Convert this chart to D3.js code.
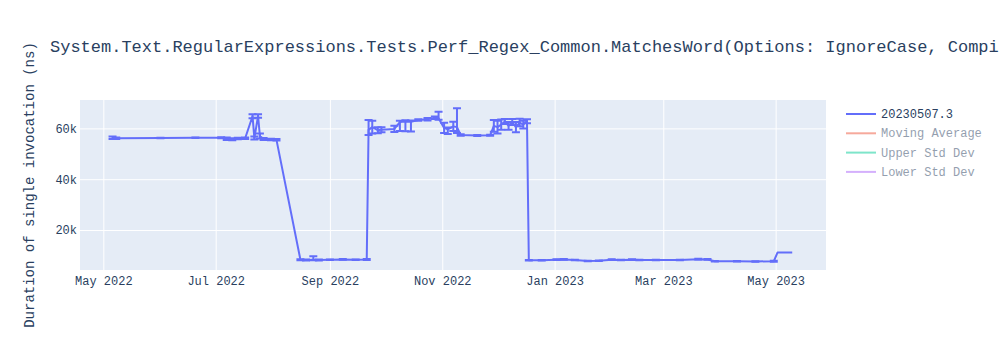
<!DOCTYPE html>
<html>
<head>
<meta charset="utf-8">
<script src="https://cdn.jsdelivr.net/npm/d3@7"></script>
<style>
  html, body { margin: 0; padding: 0; background: #fff; }
  svg { display: block; }
  text { font-family: "Courier New", Courier, "Nimbus Mono PS", FreeMono, "Liberation Mono", monospace; }
</style>
</head>
<body>
<svg id="chart" width="1000" height="350"></svg>
<script>
// ---- data ----
const title = "System.Text.RegularExpressions.Tests.Perf_Regex_Common.MatchesWord(Options: IgnoreCase, Compiled)";
const yAxisTitle = "Duration of single invocation (ns)";
const legendNames = ["20230507.3", "Moving Average", "Upper Std Dev", "Lower Std Dev"];

const dates = [
  "2022-05-06","2022-05-08","2022-06-01","2022-06-20","2022-07-04","2022-07-07","2022-07-10","2022-07-13",
  "2022-07-17","2022-07-21","2022-07-22","2022-07-24","2022-07-25","2022-07-27","2022-07-31","2022-08-03",
  "2022-08-16","2022-08-19","2022-08-23","2022-08-26","2022-09-01","2022-09-08","2022-09-15","2022-09-21",
  "2022-09-22","2022-09-24","2022-09-27","2022-09-29","2022-10-06","2022-10-09","2022-10-12","2022-10-15",
  "2022-10-19","2022-10-24","2022-10-28","2022-10-30","2022-11-02","2022-11-04","2022-11-07","2022-11-09",
  "2022-11-11","2022-11-20","2022-11-27","2022-11-29","2022-12-01","2022-12-03","2022-12-05","2022-12-07",
  "2022-12-09","2022-12-11","2022-12-13","2022-12-15","2022-12-17","2022-12-18","2022-12-25","2023-01-02",
  "2023-01-06","2023-01-12","2023-01-19","2023-01-25","2023-02-01","2023-02-06","2023-02-12","2023-02-16",
  "2023-02-25","2023-03-10","2023-03-20","2023-03-25","2023-03-29","2023-04-10","2023-04-20","2023-04-30",
  "2023-05-02","2023-05-10"
];
const values = [
  56300,56100,56200,56300,56300,55900,55700,56000,
  56100,64800,56200,64900,57000,55800,55600,55500,
  8300,8200,8300,8200,8300,8400,8300,8400,
  59400,60500,59300,59500,59800,62500,62700,62600,
  63300,63600,64200,64000,60200,59600,60800,60500,
  57400,57200,57300,61000,60500,61500,62700,61000,
  62500,60500,62300,61500,62800,8100,8100,8300,
  8400,8200,7800,7900,8300,8200,8300,8200,
  8200,8200,8500,8400,7700,7700,7600,7700,
  11100,11100
];
const errPlus = [
  500,300,100,100,200,500,400,300,
  300,800,600,700,1000,400,300,300,
  200,200,1400,200,100,150,100,200,
  3900,2500,1200,1000,1200,500,500,500,
  300,500,500,2600,2000,800,1800,7400,
  300,200,200,2300,2500,2000,1000,1500,
  1200,2000,1500,1500,800,100,100,150,
  150,100,100,100,150,100,150,100,
  100,100,150,150,100,100,100,200,
  0,0
];
const errMinus = [
  500,300,100,100,200,500,400,300,
  300,800,600,700,1000,400,300,300,
  200,200,200,200,100,150,100,200,
  2000,2500,1200,1000,1200,3500,3800,3800,
  300,500,500,600,2000,1800,1800,2300,
  300,200,200,2300,2500,2000,1000,1500,
  1200,2000,1500,1500,800,100,100,150,
  150,100,100,100,150,100,150,100,
  100,100,150,150,100,100,100,200,
  0,0
];
const xTicks = ["2022-05-01","2022-07-01","2022-09-01","2022-11-01","2023-01-01","2023-03-01","2023-05-01"];
const yTicks = [20000, 40000, 60000];
const xRange = ["2022-04-18T08:00", "2023-05-28T08:00"];
const yRange = [4250, 71180];

// ---- layout ----
const svg = d3.select("#chart");
const plot = { left: 80, right: 826, top: 100, bottom: 270 };
const parse = d3.utcParse("%Y-%m-%d");
const parseT = d3.utcParse("%Y-%m-%dT%H:%M");
const fontColor = "#2a3f5f";
const lineColor = "#636efa";
const fontFam = '"Courier New", Courier, "Nimbus Mono PS", FreeMono, "Liberation Mono", monospace';

const x = d3.scaleUtc().domain(xRange.map(parseT)).range([plot.left, plot.right]);
const y = d3.scaleLinear().domain(yRange).range([plot.bottom, plot.top]);

svg.append("rect").attr("width", 1000).attr("height", 350).attr("fill", "#fff");
svg.append("rect")
  .attr("x", plot.left).attr("y", plot.top)
  .attr("width", plot.right - plot.left).attr("height", plot.bottom - plot.top)
  .attr("fill", "#E5ECF6");

// grid + axes
const xTickDates = xTicks.map(parse);
const xAxis = d3.axisBottom(x).tickValues(xTickDates).tickFormat(d3.utcFormat("%b %Y")).tickSize(plot.bottom - plot.top).tickPadding(6);
const gx = svg.append("g").attr("transform", `translate(0,${plot.top})`).call(xAxis);
gx.select(".domain").remove();
gx.selectAll(".tick line").attr("stroke", "#fff").attr("stroke-width", 1);
gx.selectAll(".tick text").attr("fill", fontColor).attr("font-size", 12).attr("font-family", fontFam);

const yAxis = d3.axisLeft(y).tickValues(yTicks).tickFormat(d => d3.format("~s")(d)).tickSize(-(plot.right - plot.left)).tickPadding(3);
const gy = svg.append("g").attr("transform", `translate(${plot.left},0)`).call(yAxis);
gy.select(".domain").remove();
gy.selectAll(".tick line").attr("stroke", "#fff").attr("stroke-width", 1);
gy.selectAll(".tick text").attr("fill", fontColor).attr("font-size", 12).attr("font-family", fontFam);

// data
const data = dates.map((d, i) => ({ date: parse(d), v: values[i], ep: errPlus[i], em: errMinus[i] }));

svg.append("clipPath").attr("id", "clip").append("rect")
  .attr("x", plot.left).attr("y", plot.top)
  .attr("width", plot.right - plot.left).attr("height", plot.bottom - plot.top);
const g = svg.append("g").attr("clip-path", "url(#clip)");

// error bars
const eb = g.append("g").attr("stroke", lineColor).attr("stroke-width", 2).attr("fill", "none");
data.filter(d => d.ep > 0 || d.em > 0).forEach(d => {
  const cx = x(d.date), y1 = y(d.v + d.ep), y2 = y(d.v - d.em);
  eb.append("path").attr("d", `M${cx},${y1}V${y2}M${cx - 4},${y1}H${cx + 4}M${cx - 4},${y2}H${cx + 4}`);
});

// line
g.append("path").datum(data)
  .attr("fill", "none").attr("stroke", lineColor).attr("stroke-width", 2)
  .attr("stroke-linejoin", "round")
  .attr("d", d3.line().x(d => x(d.date)).y(d => y(d.v)));

// title (cut at the right edge, as in the reference)
svg.append("text").attr("x", 50).attr("y", 52)
  .attr("fill", fontColor).attr("font-size", 17).text(title);

// y axis title
svg.append("text")
  .attr("transform", `translate(34,${(plot.top + plot.bottom) / 2}) rotate(-90)`)
  .attr("text-anchor", "middle").attr("fill", fontColor).attr("font-size", 14)
  .text(yAxisTitle);

// legend
const legendColors = [lineColor, "#EF553B", "#00cc96", "#ab63fa"];
const legendOpacity = [1, 0.5, 0.5, 0.5];
const lg = svg.append("g");
legendNames.forEach((name, i) => {
  const cy = 114 + i * 19.3;
  const row = lg.append("g").attr("opacity", legendOpacity[i]);
  row.append("line").attr("x1", 846).attr("x2", 876).attr("y1", cy).attr("y2", cy)
    .attr("stroke", legendColors[i]).attr("stroke-width", 2);
  row.append("text").attr("x", 881).attr("y", cy + 4)
    .attr("fill", fontColor).attr("font-size", 12).text(name);
});
</script>
</body>
</html>
